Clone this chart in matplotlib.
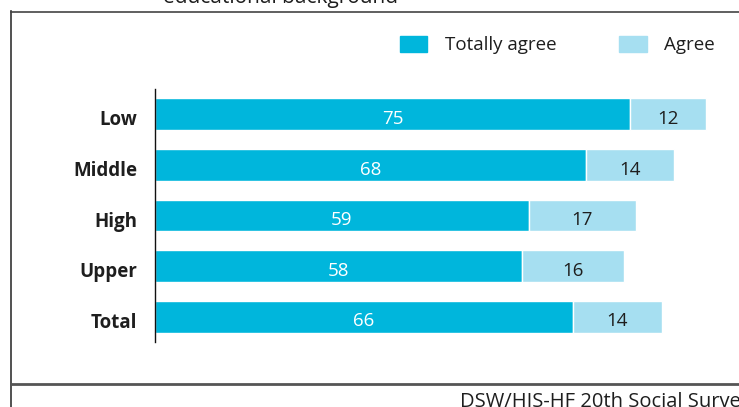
import matplotlib.pyplot as plt
from matplotlib.lines import Line2D
from matplotlib.transforms import ScaledTranslation

# agreement by educational background, in percent
groups = ["Low", "Middle", "High", "Upper", "Total"]
totally_agree = [75, 68, 59, 58, 66]
agree = [12, 14, 17, 16, 14]

dark_col = "#00b6dc"
light_col = "#a6dff1"
txt_col = "#1e1e1e"

plt.rcParams["font.family"] = ["Open Sans", "DejaVu Sans"]

fig = plt.figure(figsize=(7.39, 4.07), dpi=100)
ax = fig.add_axes([155 / 739, 65 / 407, 570 / 739, 253 / 407])

ypos = list(range(len(groups)))
ax.barh(ypos, totally_agree, height=0.63, color=dark_col, edgecolor="white", linewidth=1)
ax.barh(ypos, agree, left=totally_agree, height=0.63, color=light_col, edgecolor="white", linewidth=1)

# value labels, baseline a bit below the bar centre
for y, a, b in zip(ypos, totally_agree, agree):
    ax.text(a / 2, y + 0.19, str(a), ha="center", va="baseline", color="white", fontsize=13.5)
    ax.text(a + b / 2, y + 0.19, str(b), ha="center", va="baseline", color=txt_col, fontsize=13.5)

ax.set_xlim(0, 90)
ax.set_ylim(4.5, -0.5)
ax.set_yticks(ypos)
ax.set_yticklabels(groups, fontweight="bold", fontsize=13.5, va="baseline")
ax.tick_params(axis="y", length=0, pad=13, labelcolor=txt_col)
shift = ScaledTranslation(0, -11 / 100, fig.dpi_scale_trans)
for lab in ax.get_yticklabels():
    lab.set_transform(lab.get_transform() + shift)
ax.set_xticks([])
for side in ["top", "right", "bottom"]:
    ax.spines[side].set_visible(False)
ax.spines["left"].set_linewidth(1)
ax.spines["left"].set_color("#111111")

# legend drawn by hand at the top right
fig.patches.append(plt.Rectangle((400 / 739, 1 - 52 / 407), 27 / 739, 16 / 407,
                                 transform=fig.transFigure, color=dark_col))
fig.text(445 / 739, 1 - 50 / 407, "Totally agree", fontsize=13.5, va="baseline", color=txt_col)
fig.patches.append(plt.Rectangle((619 / 739, 1 - 52 / 407), 28 / 739, 16 / 407,
                                 transform=fig.transFigure, color=light_col))
fig.text(664 / 739, 1 - 50 / 407, "Agree", fontsize=13.5, va="baseline", color=txt_col)

# frame lines
fig.add_artist(Line2D([10.5 / 739, 10.5 / 739], [0, 1 - 11 / 407], color="#333333", lw=1.2))
fig.add_artist(Line2D([10.5 / 739, 1], [1 - 11.5 / 407, 1 - 11.5 / 407], color="#444444", lw=1.2))
fig.add_artist(Line2D([10.5 / 739, 1], [1 - 384 / 407, 1 - 384 / 407], color="#555555", lw=2))

fig.text(163 / 739, 1 - 3 / 407, "educational background", fontsize=15, va="baseline", color=txt_col)
fig.text(460 / 739, 1 - 407 / 407, "DSW/HIS-HF 20th Social Survey", fontsize=14.5, va="baseline", color=txt_col)

fig.savefig("out.png", dpi=100)
